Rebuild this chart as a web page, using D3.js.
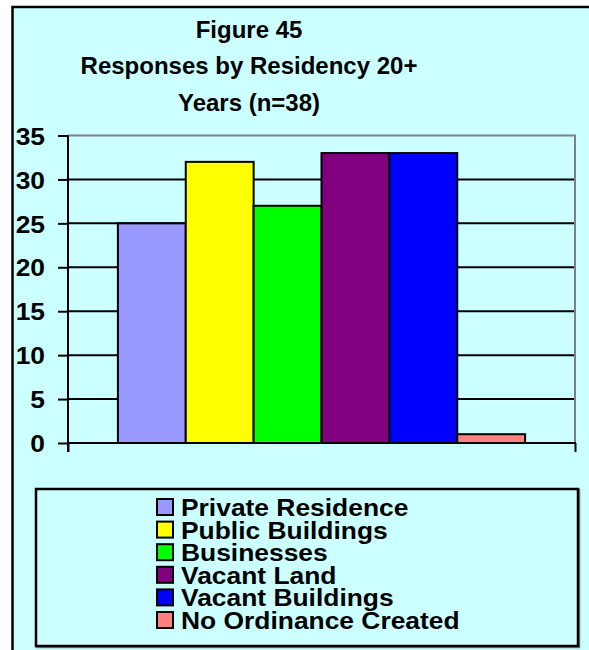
<!DOCTYPE html>
<html>
<head>
<meta charset="utf-8">
<script src="https://cdn.jsdelivr.net/npm/d3@7/dist/d3.min.js"></script>
<style>
html,body{margin:0;padding:0;background:#fff;}
svg{display:block;}
text{font-family:"Liberation Sans",Arial,sans-serif;font-weight:bold;fill:#000;}
</style>
</head>
<body>
<svg id="chart" width="589" height="650"></svg>
<script>
const titleLines = ["Figure 45", "Responses by Residency 20+", "Years (n=38)"];
const categories = ["Private Residence", "Public Buildings", "Businesses", "Vacant Land", "Vacant Buildings", "No Ordinance Created"];
const values = [25, 32, 27, 33, 33, 1];
const colors = ["#9999FF", "#FFFF00", "#00FF00", "#800080", "#0000FF", "#FF8080"];
const yTicks = [0, 5, 10, 15, 20, 25, 30, 35];

const svg = d3.select("#chart");

// chart area background + border
svg.append("rect").attr("x", 12.5).attr("y", 7).attr("width", 600).attr("height", 660)
  .attr("fill", "#CCFFFF").attr("stroke", "#000").attr("stroke-width", 2.5);

// title
const title = svg.append("text").attr("text-anchor", "middle").style("font-size", "24px");
titleLines.forEach((t, i) => {
  title.append("tspan").attr("x", 249).attr("y", 37.5 + i * 36.5).text(t);
});

const plot = {left: 68, right: 575, top: 135.5, bottom: 443};
const y = d3.scaleLinear().domain([0, 35]).range([plot.bottom, plot.top]);
const x = d3.scaleBand().domain(categories).range([plot.left, plot.right])
  .paddingInner(0).paddingOuter(0.735);

// gridlines
svg.append("g").selectAll("line").data(yTicks.filter(v => v > 0 && v < 35)).join("line")
  .attr("x1", plot.left).attr("x2", plot.right)
  .attr("y1", d => y(d)).attr("y2", d => y(d))
  .attr("stroke", "#000").attr("stroke-width", 2);

// plot area top/right border (gray)
svg.append("path")
  .attr("d", `M${plot.left},${y(35)}H${plot.right}V${plot.bottom}`)
  .attr("fill", "none").attr("stroke", "#808080").attr("stroke-width", 2);

// bars
svg.append("g").selectAll("rect").data(values).join("rect")
  .attr("x", (d, i) => x(categories[i]))
  .attr("y", d => y(d))
  .attr("width", x.bandwidth())
  .attr("height", d => y(0) - y(d))
  .attr("fill", (d, i) => colors[i])
  .attr("stroke", "#000").attr("stroke-width", 2);

// y axis
const yAxis = svg.append("g").attr("transform", `translate(${plot.left},0)`)
  .call(d3.axisLeft(y).tickValues(yTicks).tickSize(10).tickPadding(13).tickSizeOuter(0));
yAxis.select(".domain").attr("stroke", "#000").attr("stroke-width", 2)
  .attr("d", `M0,${y(35)}V${plot.bottom + 9}`);
yAxis.selectAll(".tick line").attr("stroke", "#000").attr("stroke-width", 2);
yAxis.selectAll(".tick text").style("font-size", "24px").style("font-family", "'Liberation Sans',Arial,sans-serif")
  .style("font-weight", "bold").attr("fill", "#000").attr("dy", "0.36em")
  .attr("transform", "scale(1.1,1)").attr("x", -23 / 1.1);

// x axis
const xAxis = svg.append("g").attr("transform", `translate(0,${plot.bottom})`)
  .call(d3.axisBottom(d3.scaleLinear().domain([0, 1]).range([plot.left, plot.right]))
    .tickValues([0, 1]).tickSize(9).tickFormat(""));
xAxis.select(".domain").attr("stroke", "#000").attr("stroke-width", 2)
  .attr("d", `M${plot.left},0H${plot.right + 1}`);
xAxis.selectAll(".tick line").attr("stroke", "#000").attr("stroke-width", 2);

// legend
const lg = {x: 36, y: 489, w: 542, h: 157};
svg.append("rect").attr("x", lg.x + 1).attr("y", lg.y + 1).attr("width", lg.w).attr("height", lg.h)
  .attr("fill", "none").attr("stroke", "#808080").attr("stroke-width", 2.5);
svg.append("rect").attr("x", lg.x).attr("y", lg.y).attr("width", lg.w).attr("height", lg.h)
  .attr("fill", "#CCFFFF").attr("stroke", "#000").attr("stroke-width", 2.5);

const items = svg.append("g").selectAll("g").data(categories).join("g")
  .attr("transform", (d, i) => `translate(157,${499 + i * 22.6})`);
items.append("rect").attr("width", 16).attr("height", 16)
  .attr("fill", (d, i) => colors[i]).attr("stroke", "#000").attr("stroke-width", 2);
items.append("text").attr("transform", "translate(24,17) scale(1.1,1)")
  .style("font-size", "24px").text(d => d);
</script>
</body>
</html>
